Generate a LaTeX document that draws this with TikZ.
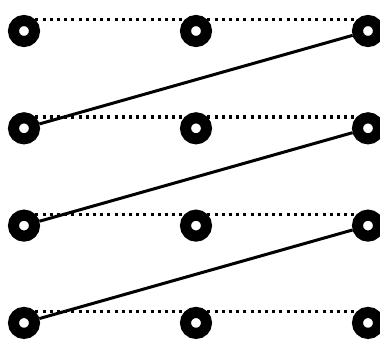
\documentclass[tikz,border=0pt]{standalone}
\usetikzlibrary{positioning}

\begin{document}
\begin{tikzpicture}[
    x=1pt, y=1pt,
    node distance=65.3pt and 140pt,
    ring/.style={circle, draw=black, fill=white, line width=11pt,
                 minimum size=21pt, inner sep=0pt},
    dotline/.style={line width=3.1pt, dash pattern=on 3.1pt off 4.1pt},
    link/.style={line width=3pt}
]
\useasboundingbox (0,0) rectangle (380,-341);
\node[ring] (l1) at (24,-31) {};
\node[ring, right=of l1] (m1) {};
\node[ring, right=of m1] (r1) {};
\node[ring, below=of l1] (l2) {};
\node[ring, right=of l2] (m2) {};
\node[ring, right=of m2] (r2) {};
\node[ring, below=of l2] (l3) {};
\node[ring, right=of l3] (m3) {};
\node[ring, right=of m3] (r3) {};
\node[ring, below=of l3] (l4) {};
\node[ring, right=of l4] (m4) {};
\node[ring, right=of m4] (r4) {};
% dotted rows
\draw[dotline] (l1.45) -- (m1.135); \draw[dotline] (m1.45) -- (r1.135);
\draw[dotline] (l2.45) -- (m2.135); \draw[dotline] (m2.45) -- (r2.135);
\draw[dotline] (l3.45) -- (m3.135); \draw[dotline] (m3.45) -- (r3.135);
\draw[dotline] (l4.45) -- (m4.135); \draw[dotline] (m4.45) -- (r4.135);
% solid links
\draw[link] (r1) -- (l2);
\draw[link] (r2) -- (l3);
\draw[link] (r3) -- (l4);
\end{tikzpicture}
\end{document}
